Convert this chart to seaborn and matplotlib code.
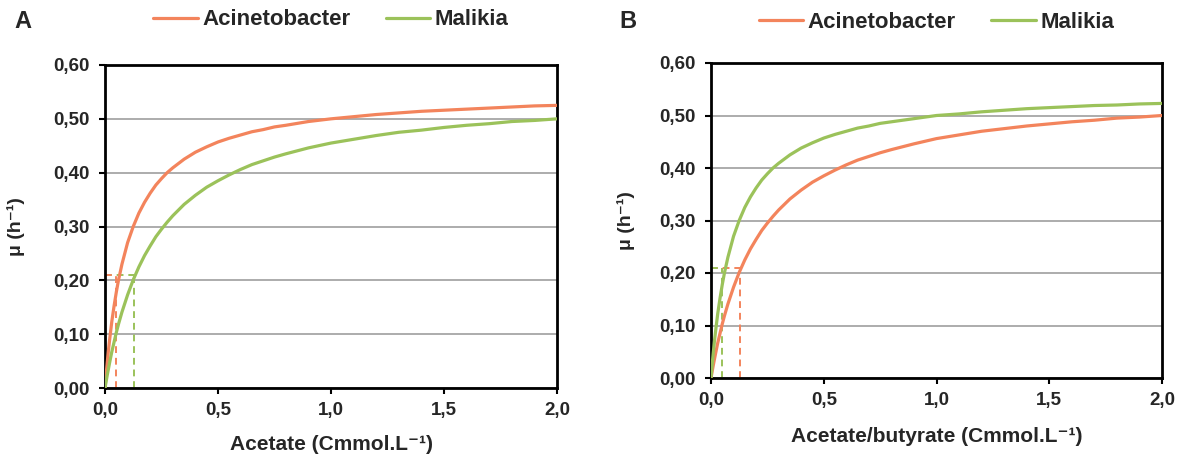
import numpy as np
import pandas as pd
import matplotlib
matplotlib.use('Agg')
import matplotlib.pyplot as plt
import seaborn as sns
from matplotlib.ticker import FuncFormatter

sns.set_style('white')
plt.rcParams['font.family'] = ['Liberation Sans', 'DejaVu Sans']
plt.rcParams['font.weight'] = 'bold'

# substrate concentration (Cmmol/L) where the curves were read
conc = [0.0, 0.005, 0.01, 0.015, 0.02, 0.03, 0.04, 0.05, 0.06, 0.075, 0.1, 0.125,
        0.15, 0.175, 0.2, 0.225, 0.25, 0.275, 0.3, 0.35, 0.4, 0.45, 0.5, 0.55,
        0.6, 0.65, 0.7, 0.75, 0.8, 0.9, 1.0, 1.1, 1.2, 1.3, 1.4, 1.5, 1.6, 1.7,
        1.8, 1.9, 2.0]

# panel A - acetate
acin_a = [0.0, 0.025, 0.048, 0.069, 0.088, 0.123, 0.152, 0.178, 0.201, 0.230, 0.270, 0.300,
          0.325, 0.345, 0.362, 0.377, 0.389, 0.400, 0.409, 0.425, 0.438, 0.448, 0.457, 0.464,
          0.470, 0.476, 0.480, 0.485, 0.488, 0.495, 0.500, 0.504, 0.508, 0.511, 0.514, 0.516,
          0.518, 0.520, 0.522, 0.524, 0.525]
mal_a = [0.0, 0.012, 0.024, 0.035, 0.046, 0.067, 0.085, 0.103, 0.119, 0.141, 0.173, 0.201,
         0.225, 0.246, 0.264, 0.281, 0.295, 0.308, 0.320, 0.341, 0.358, 0.373, 0.385, 0.396,
         0.406, 0.415, 0.422, 0.429, 0.435, 0.446, 0.455, 0.462, 0.469, 0.475, 0.479, 0.484,
         0.488, 0.491, 0.495, 0.497, 0.500]

# panel B - acetate/butyrate
acin_b = [0.0, 0.012, 0.024, 0.035, 0.046, 0.067, 0.085, 0.103, 0.119, 0.141, 0.173, 0.201,
          0.225, 0.246, 0.264, 0.281, 0.295, 0.308, 0.320, 0.341, 0.358, 0.373, 0.385, 0.396,
          0.406, 0.415, 0.422, 0.429, 0.435, 0.446, 0.456, 0.463, 0.470, 0.475, 0.480, 0.484,
          0.488, 0.491, 0.495, 0.497, 0.500]
mal_b = [0.0, 0.025, 0.048, 0.069, 0.088, 0.123, 0.152, 0.178, 0.201, 0.230, 0.270, 0.300,
         0.325, 0.345, 0.362, 0.377, 0.389, 0.400, 0.409, 0.425, 0.438, 0.448, 0.457, 0.464,
         0.470, 0.476, 0.480, 0.485, 0.488, 0.494, 0.500, 0.503, 0.507, 0.510, 0.513, 0.515,
         0.517, 0.519, 0.520, 0.522, 0.523]

# reference growth rate and matching concentrations (dashed guides)
mu_ref = 0.21
ks_a = {'Acinetobacter': 0.048, 'Malikia': 0.127}
ks_b = {'Acinetobacter': 0.127, 'Malikia': 0.047}

genera = ['Acinetobacter', 'Malikia']
colors = {'Acinetobacter': '#F3845C', 'Malikia': '#9BC25A'}

x_ticks = [0.0, 0.5, 1.0, 1.5, 2.0]
y_ticks = [0.0, 0.1, 0.2, 0.3, 0.4, 0.5, 0.6]


def long_frame(acin, mal):
    return pd.DataFrame({
        'conc': conc + conc,
        'mu': acin + mal,
        'genus': ['Acinetobacter'] * len(conc) + ['Malikia'] * len(conc),
    })


def draw_panel(ax, df, ks, xlabel, ylab_x, xlab_y, leg_y):
    # dashed guides: the wider one first, the shorter one on top
    order = sorted(genera, key=lambda g: -ks[g])
    for g in order:
        ax.plot([ks[g], ks[g]], [0, mu_ref], ls=(0, (3.5, 2.5)), lw=1.4,
                color=colors[g], zorder=2)
    for g in order:
        ax.plot([0, ks[g]], [mu_ref, mu_ref], ls=(0, (3.5, 2.5)), lw=1.4,
                color=colors[g], zorder=2)

    sns.lineplot(data=df, x='conc', y='mu', hue='genus', hue_order=genera,
                 palette=colors, lw=2.3, ax=ax, zorder=3, sort=True)

    ax.set_xlim(0, 2)
    ax.set_ylim(0, 0.6)
    ax.set_xticks(x_ticks)
    ax.set_yticks(y_ticks)
    ax.xaxis.set_major_formatter(FuncFormatter(lambda v, p: f'{v:.1f}'.replace('.', ',')))
    ax.yaxis.set_major_formatter(FuncFormatter(lambda v, p: f'{v:.2f}'.replace('.', ',')))
    ax.yaxis.grid(True, color='#A6A6A6', lw=1.3)
    ax.xaxis.grid(False)
    ax.set_axisbelow(True)
    for s in ax.spines.values():
        s.set_visible(True)
        s.set_color('black')
        s.set_linewidth(2)
    ax.tick_params(axis='both', which='major', direction='out', length=4, width=1.5,
                   color='black', labelsize=13.5, left=True, bottom=True)
    ax.tick_params(axis='y', pad=7)
    ax.tick_params(axis='x', pad=6)
    for lab in ax.get_xticklabels() + ax.get_yticklabels():
        lab.set_fontweight('bold')

    ax.set_xlabel(xlabel, fontsize=15, fontweight='bold')
    ax.set_ylabel('μ (h⁻¹)', fontsize=14, fontweight='bold')
    ax.xaxis.set_label_coords(0.5, xlab_y)
    ax.yaxis.set_label_coords(ylab_x, 0.5)

    handles, labels = ax.get_legend_handles_labels()
    ax.legend(handles, labels, loc='center', bbox_to_anchor=(0.5, leg_y), ncol=2,
              frameon=False, handlelength=2.0, handletextpad=0.2, columnspacing=1.6,
              prop={'size': 16, 'weight': 'bold'})


fig = plt.figure(figsize=(11.85, 4.59), dpi=100)
ax_a = fig.add_axes([105 / 1185, 1 - 388 / 459, 452 / 1185, 323 / 459])
ax_b = fig.add_axes([711 / 1185, 1 - 378 / 459, 451 / 1185, 315 / 459])

draw_panel(ax_a, long_frame(acin_a, mal_a), ks_a, 'Acetate (Cmmol.L⁻¹)',
           -0.177, -0.145, 1.14)
draw_panel(ax_b, long_frame(acin_b, mal_b), ks_b, 'Acetate/butyrate (Cmmol.L⁻¹)',
           -0.169, -0.155, 1.13)

fig.text(14 / 1185, 1 - 21 / 459, 'A', fontsize=17, fontweight='bold', va='center')
fig.text(619 / 1185, 1 - 21 / 459, 'B', fontsize=17, fontweight='bold', va='center')

fig.savefig('out.png', dpi=100)
